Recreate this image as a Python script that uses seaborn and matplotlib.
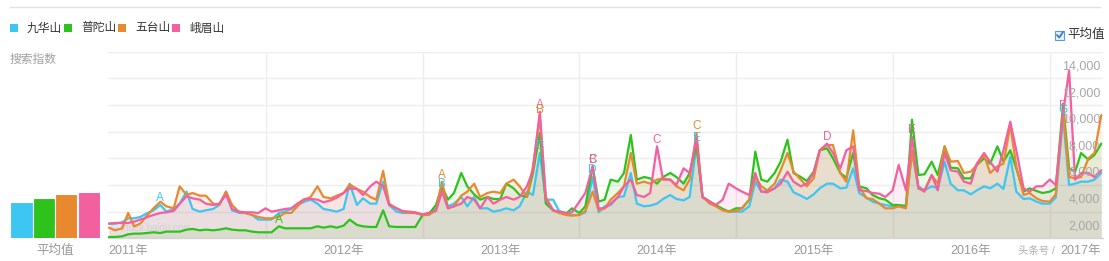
import matplotlib
matplotlib.use("Agg")
import matplotlib.pyplot as plt
from matplotlib.patches import Rectangle
from matplotlib.lines import Line2D
import matplotlib.transforms as mtransforms
import matplotlib.dates as mdates
import numpy as np
import pandas as pd
import seaborn as sns

# ---------------- data (search index, thousands, twice a month from 2011-01-01) ----------------
names = ["九华山", "普陀山", "五台山", "峨眉山"]
colors = ["#3ec6f2", "#2ec31c", "#e8892f", "#f2609f"]

jiuhua = [
    3.1, 3.1, 3.2, 3.5, 3.5, 3.6, 3.9, 4.1, 4.5, 4.0, 4.2, 4.6,
    5.5, 4.2, 4.0, 4.1, 4.2, 4.5, 5.5, 4.1, 3.9, 3.9, 3.75, 3.4,
    3.4, 3.4, 3.9, 4.0, 4.2, 4.5, 4.75, 4.9, 4.6, 4.2, 4.1, 4.0,
    4.2, 6.1, 4.5, 5.0, 4.6, 4.6, 6.25, 4.5, 4.0, 3.9, 3.9, 3.9,
    3.75, 3.9, 4.2, 5.6, 4.4, 4.6, 5.1, 4.4, 5.1, 4.25, 4.25, 4.0,
    4.1, 4.25, 4.1, 4.4, 5.5, 5.25, 8.4, 4.9, 4.9, 4.05, 3.9, 3.75,
    3.75, 3.95, 6.6, 3.95, 4.4, 4.5, 5.1, 5.15, 6.9, 4.6, 4.4, 4.45,
    4.6, 4.95, 5.25, 4.95, 4.85, 5.1, 9.0, 5.1, 4.75, 4.45, 4.2, 4.0,
    4.0, 4.0, 4.4, 6.25, 5.5, 5.55, 5.75, 6.4, 6.25, 5.45, 5.2, 4.95,
    5.3, 5.75, 6.1, 6.1, 5.75, 5.8, 7.25, 5.4, 5.05, 4.75, 4.6, 4.5,
    4.4, 4.4, 4.5, 8.4, 5.9, 5.6, 5.9, 5.75, 7.75, 6.1, 5.6, 5.6,
    5.3, 5.6, 5.9, 5.75, 6.1, 5.7, 8.1, 5.5, 4.95, 5.0, 4.75, 4.6,
    4.6, 5.05, 11.1, 6.0, 6.1, 6.25, 6.25, 6.4, 6.9,
]
putuo = [
    2.1, 2.1, 2.15, 2.3, 2.35, 2.35, 2.4, 2.45, 2.4, 2.5, 2.5, 2.5,
    2.65, 2.7, 2.6, 2.65, 2.6, 2.65, 2.75, 2.65, 2.6, 2.6, 2.5, 2.45,
    2.45, 2.45, 2.9, 2.75, 2.75, 2.75, 2.75, 2.75, 2.9, 2.8, 2.9, 2.8,
    2.95, 3.4, 3.0, 2.9, 2.85, 2.85, 4.1, 2.9, 2.85, 2.85, 2.85, 2.85,
    3.75, 3.8, 4.5, 5.9, 4.9, 5.4, 6.9, 5.9, 5.3, 4.9, 5.1, 4.95,
    4.95, 6.1, 5.75, 5.25, 5.1, 6.9, 9.9, 4.6, 4.1, 3.95, 3.85, 4.25,
    3.9, 4.4, 7.4, 4.75, 4.9, 6.4, 6.25, 6.9, 9.75, 6.4, 6.6, 6.5,
    6.1, 6.6, 6.9, 6.6, 6.1, 6.9, 8.9, 5.1, 4.75, 4.5, 4.2, 4.0,
    4.25, 4.25, 4.9, 8.5, 6.4, 6.25, 6.9, 7.75, 9.4, 6.9, 6.6, 6.3,
    7.0, 8.6, 8.75, 8.0, 6.9, 6.55, 8.4, 5.9, 5.75, 5.25, 5.0, 4.9,
    4.5, 4.5, 4.4, 10.9, 6.75, 6.8, 7.75, 6.75, 8.9, 7.3, 7.25, 6.5,
    6.5, 7.5, 8.0, 7.6, 8.9, 7.75, 8.6, 7.25, 5.5, 5.75, 5.55, 5.4,
    5.5, 5.75, 12.1, 7.25, 7.0, 8.4, 7.9, 8.25, 9.1,
]
wutai = [
    2.8, 2.6, 2.75, 3.9, 2.9, 3.1, 3.75, 4.25, 4.75, 4.4, 4.25, 5.9,
    5.25, 5.4, 5.2, 5.2, 4.6, 4.5, 5.5, 4.5, 3.95, 3.9, 3.75, 3.6,
    3.5, 3.5, 3.6, 3.9, 3.9, 4.4, 4.9, 5.1, 5.9, 5.1, 5.0, 5.2,
    5.4, 6.05, 5.7, 5.5, 5.1, 4.9, 7.05, 4.6, 4.25, 4.0, 3.9, 3.9,
    3.75, 3.75, 4.1, 6.25, 4.25, 4.4, 5.2, 5.5, 6.1, 5.1, 5.4, 5.5,
    5.4, 6.1, 6.4, 5.9, 5.1, 7.4, 11.1, 5.1, 4.1, 3.9, 3.75, 3.7,
    3.75, 4.05, 5.5, 4.1, 4.25, 4.9, 5.4, 5.9, 8.4, 6.1, 6.25, 6.1,
    6.4, 6.5, 6.4, 5.9, 5.6, 6.4, 9.9, 5.1, 4.6, 4.4, 4.1, 4.0,
    4.05, 4.25, 4.9, 6.6, 5.9, 5.6, 6.1, 7.1, 8.4, 7.0, 6.4, 5.9,
    6.5, 8.6, 9.0, 9.0, 6.9, 6.25, 10.1, 5.9, 5.0, 4.95, 4.6, 4.25,
    4.25, 4.4, 4.25, 8.6, 5.75, 5.6, 6.75, 6.1, 8.9, 7.75, 7.8, 6.9,
    7.0, 7.5, 8.25, 6.9, 7.4, 7.6, 10.5, 7.4, 5.25, 5.4, 5.0, 4.8,
    4.75, 5.3, 11.6, 6.6, 6.5, 6.6, 8.0, 8.4, 11.25,
]
emei = [
    3.1, 3.15, 3.15, 3.15, 3.25, 3.4, 3.6, 3.75, 3.9, 3.95, 4.05, 4.6,
    5.15, 5.0, 4.9, 4.6, 4.5, 4.6, 5.25, 4.2, 4.0, 3.95, 3.95, 3.9,
    4.25, 4.0, 4.1, 4.2, 4.25, 4.6, 4.95, 4.95, 4.9, 4.7, 4.85, 5.05,
    5.4, 5.75, 5.7, 5.25, 5.9, 6.25, 5.9, 4.5, 4.25, 4.05, 4.0, 3.95,
    3.8, 3.9, 4.05, 5.5, 4.25, 4.4, 4.6, 5.1, 4.9, 4.25, 5.1, 4.6,
    4.9, 5.1, 4.9, 5.1, 5.9, 7.1, 11.5, 4.9, 4.1, 4.0, 3.9, 3.95,
    4.75, 5.4, 7.4, 4.25, 4.25, 4.6, 5.1, 5.9, 6.4, 5.25, 5.1, 5.4,
    8.9, 6.4, 6.4, 6.0, 7.25, 6.9, 9.5, 5.1, 4.75, 4.5, 4.9, 6.1,
    5.75, 5.5, 5.25, 6.9, 5.5, 5.45, 5.75, 6.1, 7.0, 6.25, 5.9, 6.1,
    6.9, 8.6, 9.1, 8.4, 7.25, 8.6, 8.9, 5.6, 5.55, 5.4, 5.35, 5.1,
    5.6, 7.5, 5.6, 9.6, 5.75, 5.5, 6.75, 5.6, 8.4, 7.1, 7.0, 6.25,
    6.1, 7.6, 8.4, 7.75, 7.0, 8.6, 10.75, 8.6, 5.75, 5.5, 5.9, 5.9,
    6.4, 6.0, 11.4, 14.6, 6.4, 6.9, 6.9, 6.6, 7.1,
]
averages = [4700, 5000, 5300, 5450]
year_labels = ["2011年", "2012年", "2013年", "2014年", "2015年", "2016年", "2017年"]
y_tick_values = [2000, 4000, 6000, 8000, 10000, 12000, 14000]
# (series, point index, letter) event marks
peak_marks = [
    ("九华山", 8, "A"), ("普陀山", 26, "A"),
    ("五台山", 51, "A"), ("九华山", 51, "B"),
    ("峨眉山", 66, "A"), ("五台山", 66, "B"), ("九华山", 66, "C"),
    ("普陀山", 74, "C"), ("峨眉山", 74, "B"), ("九华山", 74, "D"),
    ("峨眉山", 84, "C"),
    ("五台山", 90, "C"), ("九华山", 90, "E"),
    ("峨眉山", 110, "D"),
    ("峨眉山", 123, "E"),
    ("峨眉山", 146, "F"), ("九华山", 146, "G"),
]

# ---------------- figure ----------------
W, H = 1109, 261
sns.set_theme(style="white")
plt.rcParams["font.family"] = ["Liberation Sans", "Noto Sans CJK SC", "DejaVu Sans"]

dates = pd.date_range("2011-01-01", periods=len(jiuhua), freq="SMS")
all_vals = [jiuhua, putuo, wutai, emei]
df = pd.DataFrame({
    "date": np.tile(dates.values, len(names)),
    "mountain": np.repeat(names, len(dates)),
    "value": np.concatenate([np.array(v) * 1000 for v in all_vals]),
})

fig = plt.figure(figsize=(W / 100, H / 100), dpi=100, facecolor="white")


def fx(px):
    return px / W


def fy(py):
    return 1 - py / H


top_py, bot_py = 51.7, 238.3
ax = fig.add_axes([fx(108), fy(bot_py), (1103 - 108) / W, (bot_py - top_py) / H])

for n, c, v in zip(names, colors, all_vals):
    ax.fill_between(dates, 2000, np.array(v) * 1000, color=c, alpha=0.10, lw=0, zorder=1)

sns.lineplot(data=df, x="date", y="value", hue="mountain", hue_order=names,
             palette=colors, linewidth=1.6, legend=False, ax=ax, zorder=3)

ax.set_ylim(2000, 16000)
ax.set_xlim(pd.Timestamp("2010-12-30"), pd.Timestamp("2017-05-05"))
ax.set_yticks(range(2000, 16001, 2000))
ax.set_xticks([pd.Timestamp(f"{y}-01-01") for y in range(2012, 2018)])
ax.tick_params(length=0, labelbottom=False, labelleft=False)
ax.grid(True, color="#eeeeee", lw=1)
ax.set_axisbelow(True)
ax.set_xlabel("")
ax.set_ylabel("")
for s in ["left", "right", "top"]:
    ax.spines[s].set_visible(False)
ax.spines["bottom"].set_color("#d4d4d4")
ax.spines["bottom"].set_linewidth(1)

# y labels inside the plot, on the right, above each gridline
ytr = mtransforms.blended_transform_factory(ax.transAxes, ax.transData)
for v in y_tick_values:
    ax.text(0.997, v + 900, f"{v:,}", transform=ytr, ha="right", va="center",
            fontsize=9, color="#a8a8a8", zorder=5)

# event letters
val_map = dict(zip(names, all_vals))
col_map = dict(zip(names, colors))
for n, i, letter in peak_marks:
    ax.annotate(letter, (dates[i], val_map[n][i] * 1000), xytext=(0, 0.5),
                textcoords="offset points", ha="center", va="bottom",
                fontsize=8.5, color=col_map[n], zorder=6)

# x labels
xtr = mtransforms.blended_transform_factory(ax.transData, fig.transFigure)
label_y = fy(251)
ax.text(mdates.date2num(pd.Timestamp("2010-12-31")), label_y, year_labels[0],
        transform=xtr, ha="left", va="center", fontsize=9, color="#999999")
for k, lab in enumerate(year_labels[1:-1]):
    yr = 2012 + k
    ax.text(mdates.date2num(pd.Timestamp(f"{yr}-07-01")), label_y, lab, transform=xtr,
            ha="center", va="center", fontsize=9, color="#999999")
fig.text(fx(1101), label_y, year_labels[-1], ha="right", va="center", fontsize=9,
         color="#999999")
fig.text(fx(1018), label_y, "头条号 /", ha="left", va="center", fontsize=7.5,
         color="#b0b0b0")
ax.text(0.003, 0.03, "© index.baidu.com", transform=ax.transAxes, ha="left",
        va="bottom", fontsize=7, color="#d2d2d2", zorder=2)

# ---------------- average bars ----------------
bax = fig.add_axes([fx(10), fy(bot_py), 90 / W, (bot_py - top_py) / H])
sns.barplot(x=names, y=averages, hue=names, palette=colors, legend=False, width=1.0,
            saturation=1, edgecolor="white", linewidth=0.8, ax=bax)
bax.set_ylim(2000, 16000)
bax.set_xlim(-0.5, 3.5)
bax.axis("off")
fig.text(fx(55), fy(251), "平均值", ha="center", va="center", fontsize=9,
         color="#999999")

# ---------------- header ----------------
fig.add_artist(Line2D([fx(10), fx(1100)], [fy(7), fy(7)], color="#e2e2e2", lw=1))
sq_x = [10, 64, 118, 172]
for n, c, x0 in zip(names, colors, sq_x):
    fig.add_artist(Rectangle((fx(x0), fy(32)), 7.5 / W, 7.5 / H, facecolor=c,
                             edgecolor="none"))
    fig.text(fx(x0 + 17), fy(28.5), n, ha="left", va="center", fontsize=8.5,
             color="#333333")
fig.text(fx(10), fy(60), "搜索指数", ha="left", va="center", fontsize=8.5,
         color="#a0a0a0")

# checkbox "平均值"
fig.add_artist(Rectangle((fx(1055), fy(40)), 9 / W, 9 / H, facecolor="#eaf2fc",
                         edgecolor="#5b9be0", lw=0.8))
fig.add_artist(Line2D([fx(1057), fx(1059.3), fx(1063)], [fy(35), fy(37.5), fy(32)],
                      color="#2f7bd6", lw=1.3))
fig.text(fx(1067), fy(35), "平均值", ha="left", va="center", fontsize=9,
         color="#333333")

fig.savefig("out.png", dpi=100, facecolor="white")
